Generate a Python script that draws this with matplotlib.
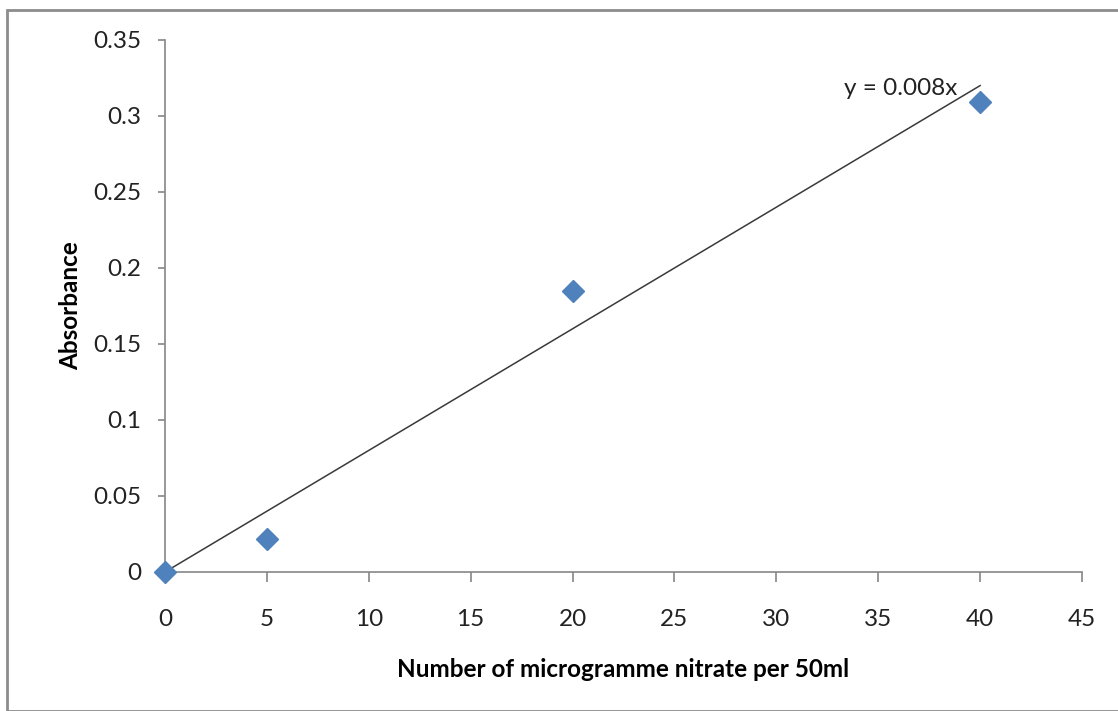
import matplotlib
matplotlib.use("Agg")
import matplotlib.pyplot as plt
from matplotlib.patches import Rectangle

x_vals = [0, 5, 20, 40]
y_vals = [0, 0.022, 0.185, 0.309]
slope = 0.008
x_ticks = [0, 5, 10, 15, 20, 25, 30, 35, 40, 45]
y_ticks = [0, 0.05, 0.1, 0.15, 0.2, 0.25, 0.3, 0.35]
y_tick_labels = ["0", "0.05", "0.1", "0.15", "0.2", "0.25", "0.3", "0.35"]

plt.rcParams['font.family'] = ['Lato', 'DejaVu Sans']

fig = plt.figure(figsize=(11.18, 7.11), dpi=100)
fig.patches.append(Rectangle((7/1118, 0), 2, (711-10)/711, transform=fig.transFigure,
                             fill=False, edgecolor='#8c8c8c', linewidth=2))
ax = fig.add_axes([165/1118, (711-572)/711, (1082-165)/1118, (572-40)/711])

gray = '#868686'
for s in ['top', 'right']:
    ax.spines[s].set_visible(False)
for s in ['left', 'bottom']:
    ax.spines[s].set_color(gray)
    ax.spines[s].set_linewidth(1.2)

fit_x = [0, 40]
ax.plot(fit_x, [slope * v for v in fit_x], color='#3a3a3a', linewidth=1.1, zorder=2)
ax.plot(x_vals, y_vals, linestyle='none', marker='D', markersize=11,
        color='#4F81BD', zorder=3, clip_on=False)
ax.text(38.9, 0.3178, "y = 0.008x", ha='right', va='center', fontsize=17.5, color='#222222')

ax.set_xlim(0, 45)
ax.set_ylim(0, 0.35)
ax.set_xticks(x_ticks)
ax.set_yticks(y_ticks)
ax.set_yticklabels(y_tick_labels)
ax.tick_params(axis='x', direction='out', length=7, width=1.2, color=gray,
               labelsize=17.5, pad=20, labelcolor='#222222')
ax.tick_params(axis='y', direction='out', length=5, width=1.2, color=gray,
               labelsize=17.5, pad=12, labelcolor='#222222')

ax.set_xlabel("Number of microgramme nitrate per 50ml", fontsize=17.5, fontweight='bold',
              labelpad=20)
ax.set_ylabel("Absorbance", fontsize=17.5, fontweight='bold', labelpad=8)

fig.savefig("out.png", dpi=100)
